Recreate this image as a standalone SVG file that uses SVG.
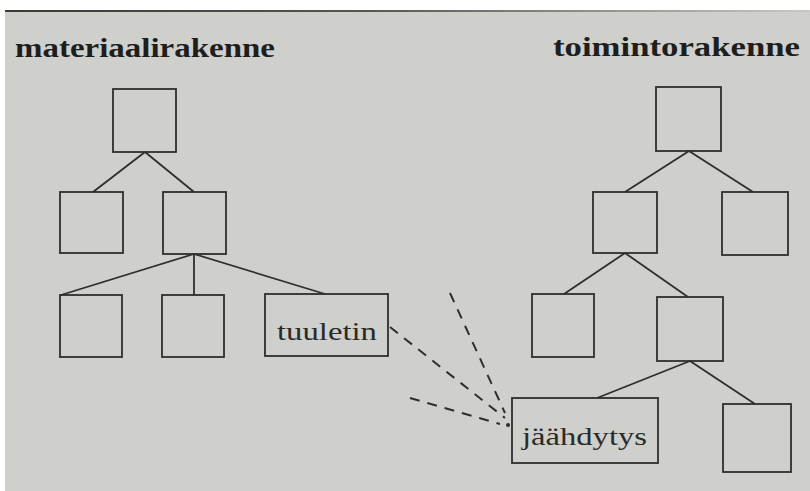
<svg xmlns="http://www.w3.org/2000/svg" width="810" height="491" viewBox="0 0 810 491">
<defs>
<linearGradient id="edge" x1="0" y1="0" x2="1" y2="0">
<stop offset="0" stop-color="#3a3a3a"/>
<stop offset="0.45" stop-color="#555"/>
<stop offset="1" stop-color="#c8c8c4"/>
</linearGradient>
</defs>
<style>
.box{fill:none;stroke:#2e2e2e;stroke-width:1.8}
.ln{stroke:#2e2e2e;stroke-width:1.8;fill:none}
.dash{stroke:#2e2e2e;stroke-width:2;fill:none;stroke-dasharray:10 8}
.title{font-family:"Liberation Serif",serif;font-weight:bold;font-size:28px;fill:#1e1e1e}
.lbl{font-family:"Liberation Serif",serif;font-size:25px;fill:#2a2a2a}
</style>
<rect x="0" y="0" width="810" height="491" fill="#ffffff"/>
<rect x="5" y="10" width="805" height="481" fill="#cfd0cc"/>
<rect x="5" y="10" width="805" height="2" fill="url(#edge)"/>
<g id="title-left"><text class="title" x="15" y="57" textLength="260" lengthAdjust="spacingAndGlyphs">materiaalirakenne</text></g>
<g id="title-right"><text class="title" x="553" y="56" textLength="247" lengthAdjust="spacingAndGlyphs">toimintorakenne</text></g>
<g id="connectors">
<line class="ln" x1="145" y1="152" x2="93" y2="192"/>
<line class="ln" x1="145" y1="152" x2="194" y2="192"/>
<line class="ln" x1="194" y1="254" x2="61" y2="295"/>
<line class="ln" x1="194" y1="254" x2="194" y2="295"/>
<line class="ln" x1="194" y1="254" x2="325" y2="294"/>
<line class="ln" x1="689" y1="151" x2="625" y2="192"/>
<line class="ln" x1="689" y1="151" x2="753" y2="192"/>
<line class="ln" x1="625" y1="253" x2="564" y2="294"/>
<line class="ln" x1="625" y1="253" x2="688" y2="297"/>
<line class="ln" x1="690" y1="361" x2="597" y2="398"/>
<line class="ln" x1="690" y1="361" x2="755" y2="404"/>
<line class="dash" x1="390" y1="327" x2="505" y2="418"/>
<line class="dash" x1="450" y1="293" x2="505" y2="413"/>
<line class="dash" x1="410" y1="398" x2="500" y2="424"/>
<circle cx="508" cy="425" r="2" fill="#2e2e2e"/>
</g>
<g id="m-root"><rect class="box" x="113" y="89" width="63" height="63"/></g>
<g id="m-a"><rect class="box" x="60" y="192" width="63" height="61"/></g>
<g id="m-b"><rect class="box" x="163" y="192" width="63" height="62"/></g>
<g id="m-b1"><rect class="box" x="60" y="295" width="62" height="62"/></g>
<g id="m-b2"><rect class="box" x="162" y="295" width="62" height="62"/></g>
<g id="tuuletin"><rect class="box" x="265" y="294" width="123" height="62"/><text class="lbl" x="277" y="340" textLength="100" lengthAdjust="spacingAndGlyphs">tuuletin</text></g>
<g id="t-root"><rect class="box" x="656" y="87" width="65" height="64"/></g>
<g id="t-a"><rect class="box" x="593" y="192" width="64" height="61"/></g>
<g id="t-b"><rect class="box" x="722" y="192" width="66" height="63"/></g>
<g id="t-a1"><rect class="box" x="532" y="294" width="62" height="63"/></g>
<g id="t-a2"><rect class="box" x="657" y="297" width="66" height="64"/></g>
<g id="jaahdytys"><rect class="box" x="512" y="398" width="146" height="65"/><text class="lbl" x="522" y="445" textLength="125" lengthAdjust="spacingAndGlyphs">jäähdytys</text></g>
<g id="t-a2b"><rect class="box" x="723" y="404" width="68" height="68"/></g>
</svg>
